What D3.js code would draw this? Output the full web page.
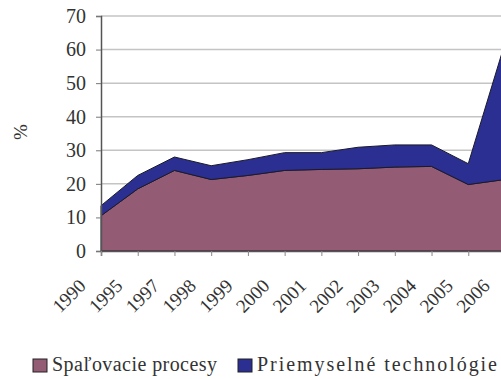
<!DOCTYPE html>
<html>
<head>
<meta charset="utf-8">
<script src="https://cdn.jsdelivr.net/npm/d3@7"></script>
<style>
  html, body { margin: 0; padding: 0; background: #fff; overflow: hidden; }
  svg { display: block; }
</style>
</head>
<body>
<svg id="chart" width="501" height="379"></svg>
<script>
// Years on the category axis
const years = ["1990", "1995", "1997", "1998", "1999", "2000", "2001", "2002", "2003", "2004", "2005", "2006"];
// Share (%) from combustion processes
const spalovacie = [10.5, 18.5, 24.0, 21.3, 22.5, 24.0, 24.3, 24.5, 25.0, 25.2, 19.8, 21.3];
// Share (%) from industrial technologies, stacked on top
const priemyselne = [3.0, 4.0, 4.0, 4.1, 4.7, 5.3, 5.0, 6.4, 6.6, 6.4, 6.2, 40.7];
const yTicks = [0, 10, 20, 30, 40, 50, 60, 70];
const seriesNames = ["Spaľovacie procesy", "Priemyselné technológie"];
const colors = ["#935b74", "#2c2f92"];

const FONT = "'Liberation Serif', 'Times New Roman', serif";

const svg = d3.select("#chart");

const x = d3.scalePoint().domain(years).range([101, 505]);
const y = d3.scaleLinear().domain([0, 70]).range([251, 16]);

const rows = years.map((yr, i) => ({ year: yr, s: spalovacie[i], p: priemyselne[i] }));
const stacked = d3.stack().keys(["s", "p"])(rows);

// Horizontal gridlines
svg.append("g")
  .selectAll("line")
  .data(yTicks.filter(t => t > 0))
  .join("line")
  .attr("x1", 101).attr("x2", 501)
  .attr("y1", d => y(d)).attr("y2", d => y(d))
  .attr("stroke", "#c4c4c4")
  .attr("stroke-width", 1.5);

// Stacked areas
const area = d3.area()
  .x(d => x(d.data.year))
  .y0(d => y(d[0]))
  .y1(d => y(d[1]));

svg.append("g")
  .selectAll("path")
  .data(stacked)
  .join("path")
  .attr("d", area)
  .attr("fill", (d, i) => colors[i])
  .attr("stroke", "#1a1a2a")
  .attr("stroke-width", 1)
  .attr("stroke-linejoin", "round");

// Y axis
const yAxis = d3.axisLeft(y).tickValues(yTicks).tickSize(5).tickPadding(10);
const gy = svg.append("g").attr("transform", "translate(101,0)").call(yAxis);
gy.select(".domain").attr("stroke", "#555").attr("stroke-width", 1.5);
gy.selectAll(".tick line").attr("stroke", "#777");
gy.selectAll(".tick text")
  .style("font-family", FONT)
  .style("font-size", "20px")
  .attr("fill", "#333");

// X axis
const xAxis = d3.axisBottom(x).tickSize(5).tickFormat("");
const gx = svg.append("g").attr("transform", "translate(0,251)").call(xAxis);
gx.select(".domain").attr("stroke", "#555").attr("stroke-width", 1.5);
gx.selectAll(".tick line").attr("stroke", "#888");

// Rotated category labels
svg.append("g")
  .selectAll("text")
  .data(years)
  .join("text")
  .attr("transform", d => `translate(${x(d) - 14},${287}) rotate(-45)`)
  .attr("text-anchor", "end")
  .style("font-family", FONT)
  .style("font-size", "19px")
  .attr("fill", "#333")
  .text(d => d);

// Y axis title
svg.append("text")
  .attr("transform", "translate(27,132) rotate(-90)")
  .attr("text-anchor", "middle")
  .style("font-family", FONT)
  .style("font-size", "19px")
  .attr("fill", "#333")
  .text("%");

// Legend
const legendItems = [
  { name: seriesNames[0], color: colors[0], x: 33, w: 165 },
  { name: seriesNames[1], color: colors[1], x: 238, w: 240 }
];
const lg = svg.append("g");
lg.selectAll("rect")
  .data(legendItems)
  .join("rect")
  .attr("x", d => d.x).attr("y", 359)
  .attr("width", 14).attr("height", 13)
  .attr("fill", d => d.color)
  .attr("stroke", "#222")
  .attr("stroke-width", 1);
lg.selectAll("text")
  .data(legendItems)
  .join("text")
  .attr("x", d => d.x + 19).attr("y", 371)
  .attr("textLength", d => d.w)
  .attr("lengthAdjust", "spacing")
  .style("font-family", FONT)
  .style("font-size", "20px")
  .attr("fill", "#333")
  .text(d => d.name);
</script>
</body>
</html>
